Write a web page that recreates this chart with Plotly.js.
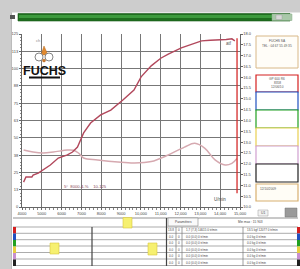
<!DOCTYPE html>
<html><head><meta charset="utf-8">
<script src="https://cdn.plot.ly/plotly-3.0.1.min.js"></script>
<style>html,body{margin:0;padding:0;background:#fff;}#chart{width:300px;height:269px;}</style>
</head><body><div id="chart"></div>
<script>
// ---- data ----
const powerRpm = [4080,4200,4500,4560,4820,5070,5430,5830,6290,6550,6800,7110,7460,7970,8480,9090,9650,10010,10520,11000,11380,12040,12500,13060,13500,13930,14300,14590,14740];
const powerVal = [18,21.7,21.7,23,24.5,26.7,30.3,35.4,37.6,39.7,43.3,53.5,60.7,66.5,70,77.3,84.5,94,102,107.5,110.5,115,117.5,120,120.5,120.5,121,121.5,120];
const torqueRpm = [4080,4560,5070,5580,6290,6600,6850,7110,7820,8840,9650,10520,11380,12200,12720,13230,13740,14250,14590,14850];
const torqueVal = [41.2,39.7,39,39.7,41.2,41,39,35.4,34,32.5,31.8,32.8,37.6,43.3,46,42.4,34,30.3,31.5,35];
const cursorRpm = [14850,14850];
const cursorVal = [122,10];
const leftTickText = ["0","13","25","38","50","63","75","88","100","113","125"];
const rowColors = ["#d42020","#2050c0","#20a020","#e8d040","#c890d0","#202020"];
const row1Cells = ["13.8","0","1,7 (7,3) 14615 0 tr/min","13.5 kgf 12077 0 tr/min"];
const rowEmptyCells = ["0.0","0","0.0 (0.0) 0 tr/min","0.0 kg 0 tr/min"];

// ---- pixel helpers for decoration ----
const L=22,R=240,T=34,B=207;
const px=x=>(x-L)/(R-L), py=y=>(B-y)/(B-T);
const shapes=[], ann=[];
function rect(x0,y0,x1,y1,fill,lc,lw){shapes.push({type:'rect',xref:'paper',yref:'paper',x0:px(x0),x1:px(x1),y0:py(y1),y1:py(y0),fillcolor:fill,line:{color:lc||'rgba(0,0,0,0)',width:lw||0},layer:'above'});}
function seg(x0,y0,x1,y1,c,w){shapes.push({type:'line',xref:'paper',yref:'paper',x0:px(x0),x1:px(x1),y0:py(y0),y1:py(y1),line:{color:c,width:w||1},layer:'above'});}
function circ(x0,y0,x1,y1,fill,lc,lw){shapes.push({type:'circle',xref:'paper',yref:'paper',x0:px(x0),x1:px(x1),y0:py(y1),y1:py(y0),fillcolor:fill,line:{color:lc,width:lw||0.8},layer:'above'});}
function txt(x,y,s,size,color,xa,extra){ann.push(Object.assign({xref:'paper',yref:'paper',x:px(x),y:py(y),text:s,showarrow:false,xanchor:xa||'left',yanchor:'middle',font:{size:size,color:color||'#333',family:'Liberation Sans, Arial, sans-serif'}},extra||{}));}

// window background
rect(0,0,300,12.5,'#cdcdcd');
rect(0,0,11.5,269,'#cdcdcd');
seg(11.5,12.5,11.5,269,'#b0b0b0',0.8);
// title bar
rect(18,13.5,290,21,'#1f6e1f','#185a18',0.6);
rect(19,15,272,18,'#3d9a3d');
rect(272,14,292,20.5,'#a9c8a9','#8fb08f',0.5);
rect(276,15,282,19.5,'#d8d8d8','#999',0.4);
rect(10,15,15,19,'#555');

// logo
txt(34,40,'ch',4,'#888');
shapes.push({type:'path',xref:'paper',yref:'paper',path:'M '+px(41)+' '+py(55)+' L '+px(44)+' '+py(46)+' L '+px(48)+' '+py(55)+' Z',fillcolor:'#e08a30',line:{color:'#b86a20',width:0.5},layer:'above'});
circ(35,53,43,61,'#fff','#777',0.9);
circ(45,53,53,61,'#fff','#777',0.9);
circ(42.5,59,45.5,62,'#d07828','#a05a18',0.4);
txt(44.5,70.5,'<b>FUCHS</b>',12,'#111','center',{font:{size:12.5,color:'#111',family:'Liberation Sans Narrow, Arial Narrow, sans-serif'}});
rect(29,76.5,60,78.5,'#111');

// in-plot texts
txt(224,44,'atf',4.5,'#555');
txt(62,186,'5°  8000-4-%    10-125',4.2,'#8a4a58');
txt(212,199,'U/min',4.5,'#444');

// right panel boxes
rect(256,36,298,68,'#fffdf8','#d8b888',1);
txt(277,41.5,'FUCHS SA',3.2,'#555','center');
txt(277,45.5,'TEL : 04 67 55 49 35',3.2,'#555','center');
const boxY=[75,92,110,128,146,164];
const boxC=['#d42020','#2050c0','#20a020','#e8cf50','#d0a0d0','#202020'];
for(let i=0;i<6;i++){rect(256,boxY[i],298,(i<5?boxY[i+1]:182),'#ffffff',boxC[i],1.2);}
txt(277,79,'GP 600 R6',3.2,'#555','center');
txt(277,83,'8358',3.2,'#555','center');
txt(277,87,'12/06/10',3.2,'#555','center');
rect(256,184,298,201,'#fffdf6','#d8b070',1.2);
txt(258,189,'12/10/2009',3.2,'#555');
rect(258,210,268,216,'#f2f2f2','#999',0.5);
txt(263,213,'U1',3.5,'#555','center');
rect(285,208,297,217,'#9a9a9a','#777',0.5);

// bottom table (left part)
seg(13,218,298,218,'#777',0.8);
for(const y of [227,233.3,239.7,246,252.5,259,265.5]) seg(13,y,298,y,'#888',0.7);
for(let i=0;i<6;i++){rect(13,227+i*6.5,16,233.5+i*6.5,rowColors[i]);}
seg(92,227,92,266,'#444',1.2);
rect(123,217.5,132,228,'#f6f070','#d8c840',0.6);
rect(50,243,59,254,'#f6f070','#d8c840',0.6);
rect(148,243,157,255,'#f6f070','#d8c840',0.6);
// right part
seg(166.5,218,166.5,266,'#444',1.2);
rect(168,218,198,226,'#fafafa','#888',0.6);
txt(183,222,'Paramètres',3.2,'#444','center');
txt(250,222,'Min max : 15 903',3.2,'#444','center');
for(const x of [176,182,243]) seg(x,227,x,266,'#777',0.7);
for(let i=0;i<6;i++){
  const cells = i===0?row1Cells:rowEmptyCells, y=230.2+i*6.5;
  txt(171,y,cells[0],3,'#444','center');
  txt(179,y,cells[1],3,'#444','center');
  txt(184,y,cells[2],3,'#444');
  txt(245,y,cells[3],3,'#444');
  rect(297,227+i*6.5,300,233.5+i*6.5,rowColors[i]);
}

const traces=[
 {x:torqueRpm,y:torqueVal,mode:'lines',line:{color:'#d6a9b0',width:1.5,shape:'spline'},showlegend:false,hoverinfo:'skip'},
 {x:powerRpm,y:powerVal,mode:'lines',line:{color:'#b2485c',width:1.4},showlegend:false,hoverinfo:'skip'},
 {x:cursorRpm,y:cursorVal,mode:'lines',line:{color:'#d42a2a',width:1.3},showlegend:false,hoverinfo:'skip'},
 {x:[4000],y:[10],yaxis:'y2',mode:'markers',marker:{opacity:0},showlegend:false,hoverinfo:'skip'}
];
const tf={size:4,color:'#444',family:'Liberation Sans, Arial, sans-serif'};
const layout={
 width:300,height:269,margin:{l:L,r:300-R,t:T,b:269-B,pad:0},
 paper_bgcolor:'#ffffff',plot_bgcolor:'#ffffff',showlegend:false,
 xaxis:{range:[4000,15000],tickmode:'linear',tick0:4000,dtick:1000,exponentformat:'none',separatethousands:false,
   showgrid:true,gridcolor:'#777',gridwidth:1,zeroline:false,showline:true,linecolor:'#666',linewidth:1,
   ticks:'outside',ticklen:2,tickcolor:'#666',tickfont:tf,
   minor:{tickmode:'linear',tick0:4000,dtick:200,ticks:'outside',ticklen:1.5,tickcolor:'#888',showgrid:false}},
 yaxis:{range:[0,125],tickmode:'array',tickvals:leftTickText.map((_,i)=>i*12.5),ticktext:leftTickText,
   showgrid:true,gridcolor:'#777',gridwidth:1,zeroline:false,showline:true,linecolor:'#666',linewidth:1,
   ticks:'outside',ticklen:2,tickcolor:'#666',tickfont:tf,
   minor:{tickmode:'linear',tick0:0,dtick:2.5,ticks:'outside',ticklen:1.5,tickcolor:'#888',showgrid:false}},
 yaxis2:{range:[10,18],overlaying:'y',side:'right',tickmode:'linear',tick0:10,dtick:0.5,tickformat:'.1f',
   showgrid:false,zeroline:false,showline:true,linecolor:'#666',linewidth:1,ticks:'outside',ticklen:1.5,tickcolor:'#666',tickfont:tf},
 shapes:shapes,annotations:ann
};
Plotly.newPlot('chart',traces,layout,{displayModeBar:false,staticPlot:true});
</script></body></html>
